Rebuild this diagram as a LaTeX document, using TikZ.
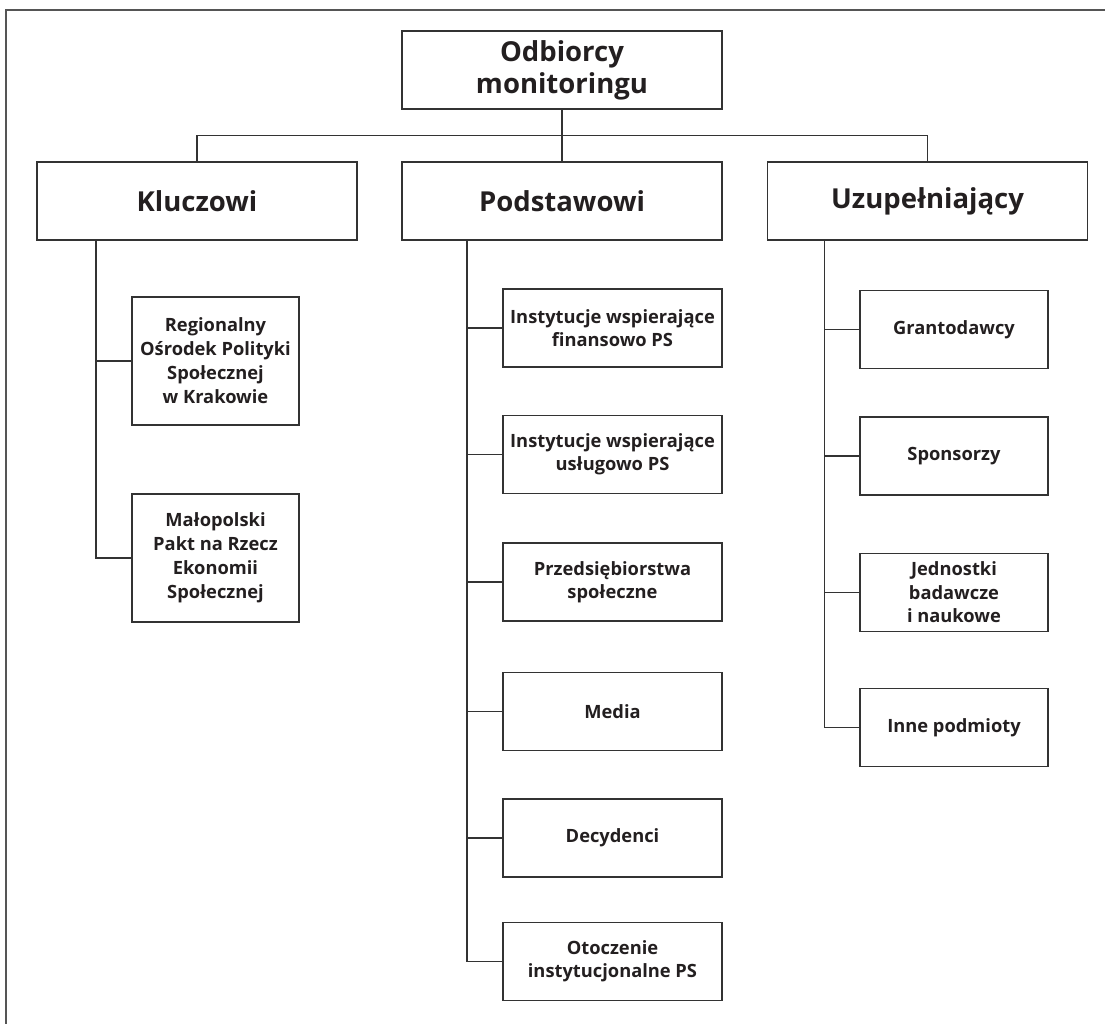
\documentclass[tikz,border=0pt]{standalone}
\usepackage{fontspec}
\setmainfont{Open Sans}
\definecolor{linecol}{HTML}{333333}
\definecolor{framecol}{HTML}{555555}
\definecolor{txtcol}{HTML}{231F20}
\tikzset{
  box/.style={draw=linecol, line width=1.2pt, rectangle, inner sep=0pt, align=center, text=txtcol},
  bigbox/.style={box, minimum width=320pt, minimum height=78pt, font=\bfseries\fontsize{27.5}{32}\selectfont},
  kbox/.style={box, minimum width=167pt, minimum height=128pt, font=\bfseries\fontsize{18.3}{24}\selectfont},
  pbox/.style={box, minimum width=219pt, minimum height=78pt, font=\bfseries\fontsize{18.3}{23}\selectfont},
  ubox/.style={box, minimum width=188pt, minimum height=78pt, font=\bfseries\fontsize{18.3}{23.5}\selectfont},
  conn/.style={draw=linecol, line width=1.2pt}
}
\begin{document}
\begin{tikzpicture}[x=1pt,y=-1pt]
\useasboundingbox (0,0) rectangle (1105,1024);
\fill[white] (0,0) rectangle (1105,1024);
\draw[framecol, line width=1.5pt] (6,1024) -- (6,10) -- (1105,10);

\node[bigbox] (top) at (562,70) {Odbiorcy\\monitoringu};
\node[bigbox] (K) at (197,201) {Kluczowi};
\node[bigbox] (P) at (562,201) {Podstawowi};
\node[bigbox] (U) at (927.5,201) {Uzupełniający};

\node[kbox] (k1) at (215.5,361) {Regionalny\\Ośrodek Polityki\\Społecznej\\w Krakowie};
\node[kbox] (k2) at (215.5,558) {Małopolski\\Pakt na Rzecz\\Ekonomii\\Społecznej};

\node[pbox] (p1) at (612.5,328) {Instytucje wspierające\\finansowo PS};
\node[pbox] (p2) at (612.5,454.5) {Instytucje wspierające\\usługowo PS};
\node[pbox] (p3) at (612.5,582) {Przedsiębiorstwa\\społeczne};
\node[pbox] (p4) at (612.5,711.5) {Media};
\node[pbox] (p5) at (612.5,838) {Decydenci};
\node[pbox] (p6) at (612.5,961.5) {Otoczenie\\instytucjonalne PS};

\node[ubox] (u1) at (954,329.5) {Grantodawcy};
\node[ubox] (u2) at (954,456) {Sponsorzy};
\node[ubox] (u3) at (954,592.5) {Jednostki\\badawcze\\i naukowe};
\node[ubox] (u4) at (954,727.5) {Inne podmioty};

% top level bus
\coordinate (bus) at (562,135.5);
\draw[conn] (top.south) -- (P.north);
\draw[conn] (K.north) -- (K.north |- bus) -- (U.north |- bus) -- (U.north);

% trunks
\coordinate (kt) at (96,240);
\coordinate (pt) at (467,240);
\coordinate (ut) at (824.5,240);

\draw[conn] (kt) |- (k2.west);
\draw[conn] (kt |- k1.west) -- (k1.west);

\draw[conn] (pt) |- (p6.west);
\foreach \n in {p1,p2,p3,p4,p5}{
  \draw[conn] (pt |- \n.west) -- (\n.west);
}

\draw[conn] (ut) |- (u4.west);
\foreach \n in {u1,u2,u3}{
  \draw[conn] (ut |- \n.west) -- (\n.west);
}
\end{tikzpicture}
\end{document}
